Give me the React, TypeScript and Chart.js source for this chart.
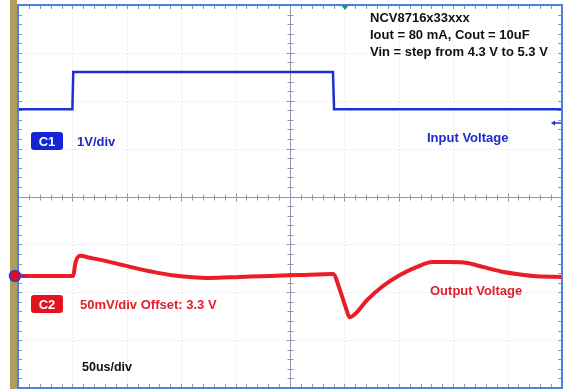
import React, { useEffect, useRef } from "react";
import { Chart, registerables } from "chart.js";

Chart.register(...registerables);

const W = 569;
const H = 389;

// time axis in microseconds (50 us/div, 10 divisions), values in screen divisions (-4..4)
const X_TICKS = [0, 50, 100, 150, 200, 250, 300, 350, 400, 450, 500];
const Y_TICKS = [-4, -3, -2, -1, 0, 1, 2, 3, 4];

// C1: Input Voltage (1 V/div)
const C1_TIME = [0, 50, 50.8, 289.5, 290.5, 500];
const C1_DIV = [1.82, 1.82, 2.6, 2.6, 1.82, 1.82];

// C2: Output Voltage (50 mV/div, offset 3.3 V)
const C2_TIME = [
  3, 50.5, 53, 57, 66, 85, 103, 121, 140, 158, 176, 204, 232, 259, 289.5,
  296, 300.5, 305, 310, 321, 335.5, 351, 366.7, 381, 397, 412.7, 427, 443,
  458.6, 473, 500,
];
const C2_DIV = [
  -1.66, -1.66, -1.37, -1.24, -1.28, -1.37, -1.47, -1.56, -1.64, -1.68, -1.7,
  -1.68, -1.66, -1.64, -1.62, -1.96, -2.27, -2.52, -2.45, -2.16, -1.87, -1.64,
  -1.47, -1.37, -1.37, -1.39, -1.47, -1.56, -1.62, -1.66, -1.68,
];

const ANNOTATION = [
  "NCV8716x33xxx",
  "Iout = 80 mA, Cout = 10uF",
  "Vin = step from 4.3 V to 5.3 V",
];

const FONT = '"Liberation Sans", Arial, sans-serif';

const scopePlugin = {
  id: "scope",
  beforeDatasetsDraw(chart: any) {
    const ctx = chart.ctx as CanvasRenderingContext2D;
    const { left, right, top, bottom } = chart.chartArea;
    const xs = chart.scales.x;
    const ys = chart.scales.y;
    ctx.save();
    ctx.fillStyle = "#ffffff";
    ctx.fillRect(0, 0, W, H);
    ctx.fillStyle = "#b39a5e";
    ctx.fillRect(10, 0, 7, H);

    // dotted grid
    ctx.strokeStyle = "rgba(150,160,185,0.4)";
    ctx.lineWidth = 1;
    ctx.setLineDash([1, 3]);
    for (const t of X_TICKS) {
      if (t === 0 || t === 500 || t === 250) continue;
      const px = Math.round(xs.getPixelForValue(t)) + 0.5;
      ctx.beginPath();
      ctx.moveTo(px, top);
      ctx.lineTo(px, bottom);
      ctx.stroke();
    }
    for (const v of Y_TICKS) {
      if (v === -4 || v === 4 || v === 0) continue;
      const py = Math.round(ys.getPixelForValue(v)) + 0.5;
      ctx.beginPath();
      ctx.moveTo(left, py);
      ctx.lineTo(right, py);
      ctx.stroke();
    }
    ctx.setLineDash([]);

    // center cross
    const cx = Math.round(xs.getPixelForValue(250)) + 0.5;
    const cy = Math.round(ys.getPixelForValue(0)) + 0.5;
    ctx.strokeStyle = "#9096a8";
    ctx.beginPath();
    ctx.moveTo(left, cy);
    ctx.lineTo(right, cy);
    ctx.moveTo(cx, top);
    ctx.lineTo(cx, bottom);
    ctx.stroke();

    // minor ticks
    ctx.strokeStyle = "#8e96ae";
    ctx.beginPath();
    for (let i = 1; i < 50; i++) {
      const px = Math.round(xs.getPixelForValue(i * 10)) + 0.5;
      const major = i % 5 === 0;
      ctx.moveTo(px, cy - (major ? 4 : 3));
      ctx.lineTo(px, cy + (major ? 4 : 3));
      ctx.moveTo(px, top);
      ctx.lineTo(px, top + 4);
      ctx.moveTo(px, bottom);
      ctx.lineTo(px, bottom - 4);
    }
    for (let j = -19; j < 20; j++) {
      const py = Math.round(ys.getPixelForValue(j * 0.2)) + 0.5;
      const major = j % 5 === 0;
      ctx.moveTo(cx - (major ? 4 : 3), py);
      ctx.lineTo(cx + (major ? 4 : 3), py);
      ctx.moveTo(left, py);
      ctx.lineTo(left + 4, py);
      ctx.moveTo(right, py);
      ctx.lineTo(right - 4, py);
    }
    ctx.stroke();
    ctx.restore();
  },
  afterDatasetsDraw(chart: any) {
    const ctx = chart.ctx as CanvasRenderingContext2D;
    const { left, right, top, bottom } = chart.chartArea;
    const ys = chart.scales.y;
    ctx.save();

    // frame
    ctx.strokeStyle = "#4f80d8";
    ctx.lineWidth = 2;
    ctx.strokeRect(left, top, right - left, bottom - top);

    // trigger position marker (top)
    ctx.fillStyle = "#1a9a8a";
    ctx.beginPath();
    ctx.moveTo(341, 5);
    ctx.lineTo(349, 5);
    ctx.lineTo(345, 10);
    ctx.closePath();
    ctx.fill();

    // trigger level arrow (right)
    ctx.strokeStyle = "#2030c8";
    ctx.fillStyle = "#2030c8";
    ctx.lineWidth = 1.5;
    ctx.beginPath();
    ctx.moveTo(561, 123);
    ctx.lineTo(553, 123);
    ctx.stroke();
    ctx.beginPath();
    ctx.moveTo(551, 123);
    ctx.lineTo(555, 120.5);
    ctx.lineTo(555, 125.5);
    ctx.closePath();
    ctx.fill();

    // C2 ground marker (left)
    const gy = ys.getPixelForValue(-1.66);
    ctx.fillStyle = "#e01020";
    ctx.strokeStyle = "#3040d0";
    ctx.lineWidth = 1.5;
    ctx.beginPath();
    ctx.arc(15, gy, 5.5, 0, Math.PI * 2);
    ctx.fill();
    ctx.stroke();
    ctx.beginPath();
    ctx.moveTo(20, gy);
    ctx.lineTo(26, gy);
    ctx.stroke();

    // channel boxes
    const box = (x: number, y: number, w: number, h: number, color: string, label: string) => {
      ctx.fillStyle = color;
      ctx.beginPath();
      (ctx as any).roundRect(x, y, w, h, 3);
      ctx.fill();
      ctx.fillStyle = "#ffffff";
      ctx.font = `bold 13px ${FONT}`;
      ctx.textAlign = "center";
      ctx.textBaseline = "middle";
      ctx.fillText(label, x + w / 2, y + h / 2 + 1);
    };
    box(31, 132, 32, 18, "#1226d6", "C1");
    box(31, 295, 32, 18, "#e4121e", "C2");

    ctx.textAlign = "left";
    ctx.textBaseline = "middle";
    ctx.font = `bold 13px ${FONT}`;
    ctx.fillStyle = "#1a2ad0";
    ctx.fillText("1V/div", 77, 142);
    ctx.fillText("Input Voltage", 427, 138);
    ctx.fillStyle = "#e0202c";
    ctx.fillText("50mV/div Offset: 3.3 V", 80, 305);
    ctx.fillText("Output Voltage", 430, 291);
    ctx.fillStyle = "#111111";
    ctx.font = `bold 12.5px ${FONT}`;
    ctx.fillText("50us/div", 82, 368);

    ctx.font = `bold 13px ${FONT}`;
    ctx.fillStyle = "#111111";
    ANNOTATION.forEach((line, i) => {
      ctx.fillText(line, 370, 18 + i * 17);
    });
    ctx.restore();
  },
};

export default function App() {
  const ref = useRef<HTMLCanvasElement | null>(null);
  useEffect(() => {
    document.body.style.margin = "0";
    const canvas = ref.current;
    if (!canvas) return;
    const chart = new Chart(canvas, {
      type: "line",
      data: {
        datasets: [
          {
            label: "Input Voltage",
            data: C1_TIME.map((t, i) => ({ x: t, y: C1_DIV[i] })),
            borderColor: "#1f2fd4",
            borderWidth: 2.5,
            pointRadius: 0,
            tension: 0,
          },
          {
            label: "Output Voltage",
            data: C2_TIME.map((t, i) => ({ x: t, y: C2_DIV[i] })),
            borderColor: "#ea1c26",
            borderWidth: 4,
            pointRadius: 0,
            tension: 0.3,
            cubicInterpolationMode: "monotone",
          },
        ],
      },
      options: {
        animation: false,
        responsive: false,
        devicePixelRatio: 1,
        layout: { padding: { left: 18, top: 5, right: 7, bottom: 1 } },
        plugins: { legend: { display: false }, tooltip: { enabled: false } },
        scales: {
          x: { type: "linear", min: 0, max: 500, display: false },
          y: { type: "linear", min: -4, max: 4, display: false },
        },
      },
      plugins: [scopePlugin],
    } as any);
    return () => chart.destroy();
  }, []);
  return (
    <div style={{ position: "absolute", left: 0, top: 0, width: W, height: H }}>
      <canvas ref={ref} width={W} height={H} style={{ display: "block", width: W, height: H }} />
    </div>
  );
}
